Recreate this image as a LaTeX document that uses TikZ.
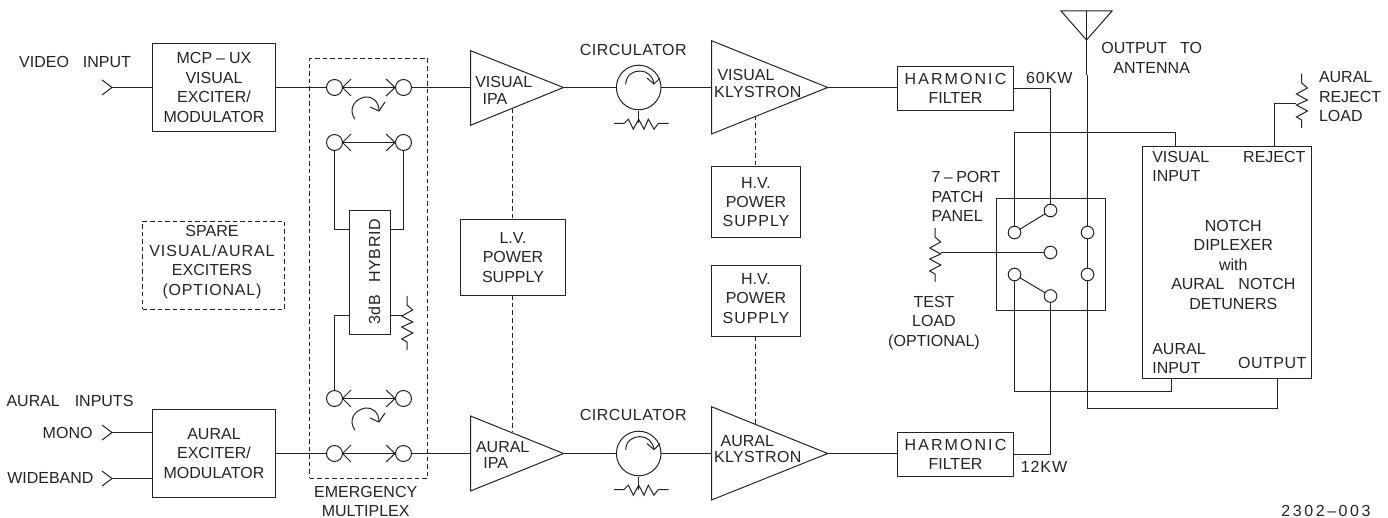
\documentclass[tikz,border=0pt]{standalone}
\usepackage{fontspec}
\setmainfont{Liberation Sans}
\definecolor{ink}{RGB}{35,35,35}
\newcommand\lab{\fontsize{16}{19.4}\selectfont}
\newcommand\wide[2]{{\addfontfeature{LetterSpace=#1}#2}}
\tikzset{
  base/.style={line width=1pt,draw=ink},
  box/.style={base,rectangle,inner sep=0pt,outer sep=0pt,align=center,font=\lab,text=ink},
  dbox/.style={box,dash pattern=on 4.5pt off 3pt},
  lab/.style={inner sep=0pt,outer sep=0pt,align=center,font=\lab,text=ink},
  labl/.style={lab,align=left,anchor=west},
  port/.style={base,circle,minimum size=16pt,inner sep=0pt,outer sep=0pt},
  pport/.style={base,circle,minimum size=12.6pt,inner sep=0pt,outer sep=0pt},
  wire/.style={base},
  dwire/.style={base,dash pattern=on 4.5pt off 3pt},
}
\newcommand\vresistor[3]{%
  \coordinate (#1) at (#2,#3);
  \draw[wire,line join=miter] (#1) -- ++(0,9) -- ++(5.7,5) -- ++(-11,6) -- ++(11,6) -- ++(-11,5) -- ++(11,6) -- ++(-11,6) -- ++(5.3,3) -- ++(0,8);
}
\newcommand\hresistor[3]{%
  \coordinate (#1) at (#2,#3);
  \draw[wire] (#2,#3+12.7) ++(-24.7,0) -- ++(10,0) -- ++(4.3,-4.3) -- ++(5,10) -- ++(5.4,-10) -- ++(5.3,10) -- ++(4.3,-10) -- ++(5.7,10) -- ++(4.3,-5.7) -- ++(10.4,0);
  \draw[wire] (#1) -- ++(0,12.7);
}
\newcommand\rotarrow[2]{%
  \draw[wire,shift={(#1,#2)}] (355,119.3) .. controls (349,111) and (352,100) .. (365,97) .. controls (372,96) and (379,101) .. (379,111);
  \draw[wire,shift={(#1,#2)}] (370,107) -- (379,111) -- (385,102);
}
\newcommand\circarrow[2]{%
  \draw[wire,shift={(#1,#2)}] (625.7,84.3) .. controls (626,75) and (633,71) .. (640,71) .. controls (647,71) and (653,76) .. (654,84);
  \draw[wire,shift={(#1,#2)}] (647,78) -- (654,84) -- (660,78);
}
\begin{document}
\begin{tikzpicture}[x=1pt,y=-1pt]
\useasboundingbox (0,0) rectangle (1388,518);

% exciters
\node[box,minimum width=123pt,minimum height=88pt] (mcp) at (214,87.5) {MCP\hspace{4pt}–\hspace{4pt}UX\\VISUAL\\EXCITER/\\MODULATOR};
\node[box,minimum width=123pt,minimum height=88pt] (aex) at (214,453.5) {AURAL\\EXCITER/\\MODULATOR};
\node[dbox,minimum width=142pt,minimum height=88pt] (spare) at (213.5,265.5) {};
\node[lab] (sparetxt) at (212,262) {SPARE\\\wide{6}{VISUAL/AURAL}\\EXCITERS\\\wide{5}{(OPTIONAL)}};

% input labels and terminals
\node[lab] (tvideo) at (75,62) {VIDEO~~\hspace{5pt}INPUT};
\node[lab] (taural) at (70,400.7) {AURAL~~\hspace{6pt}INPUTS};
\node[lab,anchor=east] (tmono) at (92.5,432.7) {MONO};
\node[lab,anchor=east] (twide) at (93.5,478) {WIDEBAND};
\coordinate (ivideo) at (112,87.5);
\coordinate (imono) at (112,432.5);
\coordinate (iwide) at (112,478.5);
\draw[wire] (102,80) -- (ivideo) -- (102,95);
\draw[wire] (102,425) -- (imono) -- (102,440);
\draw[wire] (102,471) -- (iwide) -- (102,486);
\draw[wire] (ivideo) -- (mcp.west |- ivideo);
\draw[wire] (imono) -- (aex.west |- imono);
\draw[wire] (iwide) -- (aex.west |- iwide);

% emergency multiplex
\node[dbox,minimum width=118pt,minimum height=419pt] (emux) at (368.5,268.5) {};
\node[lab] (temux) at (365.7,501.5) {EMERGENCY\\MULTIPLEX};
\node[port] (a1) at (334.5,87.5) {};
\node[port] (b1) at (403.5,87.5) {};
\node[port] (a2) at (334.5,142.5) {};
\node[port] (b2) at (403.5,142.5) {};
\node[port] (a3) at (334.5,398.5) {};
\node[port] (b3) at (403.5,398.5) {};
\node[port] (a4) at (334.5,453.5) {};
\node[port] (b4) at (403.5,453.5) {};
\foreach \yy in {87.5,142.5,398.5,453.5}{
  \draw[wire] (351,\yy-8.5) -- (342.5,\yy) -- (351,\yy+8.5);
  \draw[wire] (386,\yy-8.5) -- (395,\yy) -- (386,\yy+8.5);
  \draw[wire] (342.5,\yy) -- (395,\yy);
}
\rotarrow{0}{0}
\rotarrow{0}{311}
\node[box,minimum width=41pt,minimum height=124pt] (hyb) at (370,272.5) {};
\node[lab,rotate=90] (thyb) at (374.5,272) {\wide{3}{3dB}~~\hspace{4pt}\wide{3}{HYBRID}};
\coordinate (hl1) at (349.5,229.5);
\coordinate (hr1) at (390.5,229.5);
\coordinate (hl2) at (349.5,315.5);
\coordinate (hr2) at (401.7,315.5);
\coordinate (hr0) at (390.5,315.5);
\draw[wire] (a2.south) |- (hl1);
\draw[wire] (b2.south) |- (hr1);
\draw[wire] (a3.north) |- (hl2);
\draw[wire] (hr0) -- (hr2);
\vresistor{r1}{407}{296}

\draw[wire] (mcp.east) -- (a1);
\draw[wire] (aex.east) -- (a4);

% IPAs
\coordinate (vipa) at (470.5,87.5);
\coordinate (vipao) at (563.5,87.5);
\coordinate (aipa) at (470.5,453.5);
\coordinate (aipao) at (563.5,453.5);
\draw[wire,line join=miter] (470.5,50.7) -- (vipao) -- (470.5,125.3) -- cycle;
\draw[wire,line join=miter] (470.5,416) -- (aipao) -- (470.5,491) -- cycle;
\node[lab] (t1) at (503.7,81.7) {VISUAL};
\node[lab] (t2) at (495,99.3) {IPA};
\node[lab] (t3) at (502.7,446.7) {AURAL};
\node[lab] (t4) at (495.7,463.3) {IPA};
\draw[wire] (b1) -- (vipa);
\draw[wire] (b4) -- (aipa);

% power supplies
\node[box,minimum width=105pt,minimum height=76pt] (lv) at (513,257.5) {L.V.\\POWER\\SUPPLY};
\node[box,minimum width=89pt,minimum height=71pt] (hv1) at (756,202) {H.V.\\POWER\\\wide{6}{SUPPLY}};
\node[box,minimum width=89pt,minimum height=71pt] (hv2) at (756,301) {};
\node[lab] (hv2txt) at (756,298.5) {H.V.\\POWER\\\wide{6}{SUPPLY}};
\coordinate (d1) at (512.5,109);
\coordinate (d2) at (512.5,432);
\coordinate (d3) at (755.5,116);
\coordinate (d4) at (755.5,424);
\draw[dwire] (d1) -- (lv.north -| d1);
\draw[dwire] (lv.south -| d2) -- (d2);
\draw[dwire] (d3) -- (hv1.north -| d3);
\draw[dwire] (hv2.south -| d4) -- (d4);

% circulators
\node[base,circle,minimum size=44.6pt,inner sep=0pt,outer sep=0pt] (c1) at (638.7,87.5) {};
\node[base,circle,minimum size=44.6pt,inner sep=0pt,outer sep=0pt] (c2) at (638.7,453.5) {};
\circarrow{0}{0}
\circarrow{0}{365.6}
\hresistor{cr1}{638.7}{110.8}
\hresistor{cr2}{638.7}{476.8}
\node[lab] (t5) at (633.3,50) {\wide{3}{CIRCULATOR}};
\node[lab] (t6) at (633.3,415) {\wide{3}{CIRCULATOR}};
\draw[wire] (vipao) -- (c1);
\draw[wire] (aipao) -- (c2);

% klystrons
\coordinate (vk) at (711.5,87.5);
\coordinate (vko) at (827.7,87.5);
\coordinate (ak) at (711.5,453.5);
\coordinate (ako) at (827.7,453.5);
\draw[wire,line join=miter] (711.5,40.7) -- (vko) -- (711.5,134) -- cycle;
\draw[wire,line join=miter] (711.5,406.7) -- (ako) -- (711.5,500) -- cycle;
\node[lab] (t7) at (746,75) {VISUAL};
\node[lab] (t8) at (757.7,91.7) {\wide{2}{KLYSTRON}};
\node[lab] (t9) at (747.3,441) {AURAL};
\node[lab] (t10) at (757.7,457.3) {\wide{2}{KLYSTRON}};
\draw[wire] (c1) -- (vk);
\draw[wire] (c2) -- (ak);

% harmonic filters
\node[box,minimum width=116pt,minimum height=44pt] (hf1) at (955.5,88.5) {\wide{13}{HARMONIC}\\FILTER};
\node[box,minimum width=116pt,minimum height=44pt] (hf2) at (955.5,454.5) {\wide{13}{HARMONIC}\\FILTER};
\draw[wire] (vko) -- (hf1.west |- vko);
\draw[wire] (ako) -- (hf2.west |- ako);
\node[lab] (t60) at (1049.3,78.3) {\wide{6}{60KW}};
\node[lab] (t12) at (1044,466.7) {\wide{6}{12KW}};

% patch panel
\node[box,minimum width=109pt,minimum height=112pt] (panel) at (1051,254.5) {};
\node[pport] (p1) at (1014.5,232.5) {};
\node[pport] (p2) at (1050.5,210.5) {};
\node[pport] (p3) at (1050.5,252.5) {};
\node[pport] (p4) at (1014.5,274.5) {};
\node[pport] (p5) at (1050.5,296) {};
\node[pport] (p6) at (1087.5,232.5) {};
\node[pport] (p7) at (1087.5,274.5) {};
\draw[wire] (p1) -- (p2);
\draw[wire] (p4) -- (p5);
\draw[wire] (p6) -- (p7);
\node[lab,align=left,anchor=west] (tpanel) at (931.5,196.5) {7\hspace{3.5pt}–\hspace{3.5pt}PORT\\PATCH\\PANEL};
\vresistor{r2}{935}{228}
\coordinate (r2t) at (941,252.5);
\draw[wire] (p3) -- (r2t);
\node[lab] (ttest) at (934,322.7) {TEST\\LOAD\\(OPTIONAL)};

% diplexer
\node[box,minimum width=169pt,minimum height=232pt] (dip) at (1227,262.5) {};
\node[lab] (tdip) at (1233.3,264.7) {NOTCH\\DIPLEXER\\with\\AURAL~~\hspace{5pt}NOTCH\\DETUNERS};
\node[labl] (tvis) at (1152.3,166.7) {VISUAL\\INPUT};
\node[lab] (trej) at (1274.3,157.3) {REJECT};
\node[labl] (taur) at (1152.3,358.3) {AURAL\\INPUT};
\node[lab] (tout) at (1272.3,362.7) {\wide{3}{OUTPUT}};

% wiring to the panel and diplexer
\draw[wire] (hf1.east) -| (p2.north);
\draw[wire] (hf2.east) -| (p5.south);
\coordinate (vbend) at (1014.5,132.5);
\coordinate (vin) at (1175.5,146.5);
\draw[wire] (p1.north) -- (vbend) -| (vin);
\coordinate (abend) at (1014.5,391.5);
\coordinate (ain) at (1171.5,378.5);
\draw[wire] (p4.south) -- (abend) -| (ain);
\coordinate (obend) at (1087.5,408.5);
\coordinate (oout) at (1277.5,378.5);
\draw[wire] (p7.south) -- (obend) -| (oout);

% antenna
\coordinate (antl) at (1061,11);
\coordinate (antr) at (1112,11);
\coordinate (anta) at (1086.5,40);
\coordinate (antt) at (1086.5,11);
\coordinate (antj) at (1086.5,75.5);
\coordinate (antk) at (1087.5,75.5);
\draw[wire,line join=miter] (antl) -- (antr) -- (anta) -- cycle;
\draw[wire] (antt) -- (antj);
\draw[wire] (antk) -- (p6.north);
\node[lab] (tant) at (1151.7,58) {OUTPUT~~\hspace{4pt}TO\\ANTENNA};

% reject load
\vresistor{r3}{1301.7}{74}
\coordinate (rejtap) at (1274.5,146.5);
\coordinate (rejr) at (1296,103.5);
\draw[wire] (rejtap) |- (rejr);
\node[labl] (trejl) at (1319,96.7) {AURAL\\REJECT\\LOAD};

\node[lab] (tnum) at (1326,511) {\wide{16}{2302–003}};
\end{tikzpicture}
\end{document}
